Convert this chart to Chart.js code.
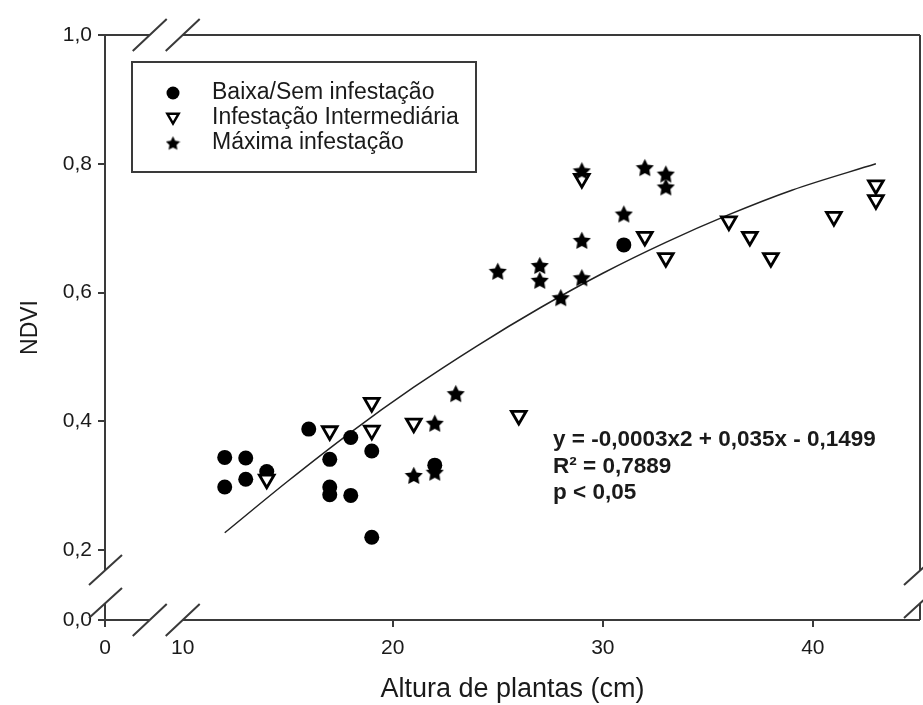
<!DOCTYPE html>
<html>
<head>
<meta charset="utf-8">
<script src="https://cdn.jsdelivr.net/npm/chart.js@4/dist/chart.umd.min.js"></script>
<style>
html, body { margin: 0; padding: 0; background: #fff; overflow: hidden; }
canvas { display: block; }
</style>
</head>
<body>
<canvas id="ndviChart" width="923" height="705"></canvas>
<script>
// values
const circleX = [12, 12, 13, 13, 14, 16, 17, 17, 17, 18, 18, 19, 19, 22, 31];
const circleY = [0.344, 0.298, 0.343, 0.310, 0.322, 0.388, 0.341, 0.298, 0.286, 0.375, 0.285, 0.354, 0.220, 0.332, 0.674];

const triX = [14, 17, 19, 19, 21, 26, 29, 32, 33, 36, 37, 38, 41, 43, 43];
const triY = [0.310, 0.385, 0.386, 0.429, 0.397, 0.409, 0.777, 0.687, 0.654, 0.711, 0.687, 0.654, 0.718, 0.767, 0.744];

const starX = [21, 22, 22, 23, 25, 27, 27, 28, 29, 29, 29, 31, 32, 33, 33];
const starY = [0.316, 0.321, 0.397, 0.443, 0.633, 0.642, 0.619, 0.592, 0.623, 0.681, 0.789, 0.722, 0.794, 0.784, 0.764];

// fitted curve as drawn
const curveX = [12, 15, 18, 21, 24, 27, 30, 33, 36, 39, 43];
const curveY = [0.227, 0.307, 0.383, 0.453, 0.517, 0.576, 0.630, 0.678, 0.721, 0.759, 0.800];

const xTickValues = [10, 20, 30, 40];
const yTickValues = [0.2, 0.4, 0.6, 0.8, 1.0];
const legendLabels = ['Baixa/Sem infestação', 'Infestação Intermediária', 'Máxima infestação'];
const fitText = ['y = -0,0003x2 + 0,035x - 0,1499', 'R² = 0,7889', 'p < 0,05'];

// broken axes: where the "0" sits on each scale and where the gap is
const X_ZERO = 6.3, X_MAX = 45.1, X_GAP = [8.43, 10];
const Y_ZERO = 0.0915, Y_MAX = 1.0, Y_GAP = [0.118, 0.169];

const FONT = "'Liberation Sans', Arial, sans-serif";
const INK = '#1a1a1a';

function toXY(xs, ys) {
    return xs.map((x, i) => ({ x: x, y: ys[i] }));
}

function makeStar(size) {
    const c = document.createElement('canvas');
    c.width = c.height = size;
    const g = c.getContext('2d');
    const r = size / 2, ri = r * 0.5;
    g.beginPath();
    for (let i = 0; i < 10; i++) {
        const a = -Math.PI / 2 + i * Math.PI / 5;
        const rr = i % 2 ? ri : r;
        g.lineTo(r + rr * Math.cos(a), r + 0.8 + rr * Math.sin(a));
    }
    g.closePath();
    g.fillStyle = '#000';
    g.fill();
    return c;
}

const starImg = makeStar(19);
const starSmall = makeStar(15);

function drawTri(ctx, x, y, r, lw) {
    ctx.beginPath();
    ctx.moveTo(x - r * 0.866, y - r * 0.5);
    ctx.lineTo(x + r * 0.866, y - r * 0.5);
    ctx.lineTo(x, y + r);
    ctx.closePath();
    ctx.fillStyle = '#fff';
    ctx.fill();
    ctx.lineWidth = lw;
    ctx.strokeStyle = '#000';
    ctx.stroke();
}

const brokenFrame = {
    id: 'brokenFrame',
    afterDraw(chart) {
        const ctx = chart.ctx;
        const { left, right, top, bottom } = chart.chartArea;
        const xs = chart.scales.x, ys = chart.scales.y;
        const gx0 = xs.getPixelForValue(X_GAP[0]), gx1 = xs.getPixelForValue(X_GAP[1]);
        const gy0 = ys.getPixelForValue(Y_GAP[0]), gy1 = ys.getPixelForValue(Y_GAP[1]);
        ctx.save();
        ctx.strokeStyle = '#3a3a3a';
        ctx.lineWidth = 2;
        ctx.beginPath();
        // bottom and top
        [bottom, top].forEach(y => {
            ctx.moveTo(left, y); ctx.lineTo(gx0, y);
            ctx.moveTo(gx1, y); ctx.lineTo(right, y);
        });
        // left and right
        [left, right].forEach(x => {
            ctx.moveTo(x, top); ctx.lineTo(x, gy1);
            ctx.moveTo(x, gy0); ctx.lineTo(x, bottom);
        });
        ctx.stroke();

        // break slashes
        ctx.beginPath();
        [bottom, top].forEach(y => {
            [gx0, gx1].forEach(x => {
                ctx.moveTo(x - 17, y + 16); ctx.lineTo(x + 17, y - 16);
            });
        });
        [left, right].forEach(x => {
            [gy0, gy1].forEach(y => {
                ctx.moveTo(x - 16, y + 15); ctx.lineTo(x + 17, y - 15);
            });
        });
        ctx.stroke();
        ctx.restore();
    }
};

const legendBox = {
    id: 'legendBox',
    afterDraw(chart) {
        const ctx = chart.ctx;
        ctx.save();
        ctx.fillStyle = '#fff';
        ctx.fillRect(132, 62, 344, 110);
        ctx.strokeStyle = '#3a3a3a';
        ctx.lineWidth = 2;
        ctx.strokeRect(132, 62, 344, 110);

        const symX = 173, textX = 212;
        const rows = [93, 118, 143];
        // circle
        ctx.beginPath();
        ctx.arc(symX, rows[0], 6.5, 0, Math.PI * 2);
        ctx.fillStyle = '#000';
        ctx.fill();
        // triangle
        drawTri(ctx, symX, rows[1] - 1, 6.5, 2.5);
        // star
        ctx.drawImage(starSmall, symX - 7.5, rows[2] - 7.5);

        ctx.fillStyle = INK;
        ctx.font = '23px ' + FONT;
        ctx.textBaseline = 'middle';
        ctx.textAlign = 'left';
        legendLabels.forEach((t, i) => ctx.fillText(t, textX, rows[i]));

        // regression text
        ctx.font = 'bold 22.5px ' + FONT;
        const fitRows = [440, 467, 493];
        fitText.forEach((t, i) => ctx.fillText(t, 553, fitRows[i]));
        ctx.restore();
    }
};

const ctx = document.getElementById('ndviChart').getContext('2d');
const chart = new Chart(ctx, {
    type: 'scatter',
    data: {
        datasets: [
            {
                label: legendLabels[2],
                data: toXY(starX, starY),
                pointStyle: starImg,
                order: 1
            },
            {
                label: legendLabels[1],
                data: toXY(triX, triY),
                pointStyle: 'triangle',
                rotation: 180,
                pointRadius: 8.5,
                pointBorderWidth: 2.8,
                pointBackgroundColor: '#fff',
                pointBorderColor: '#000',
                order: 2
            },
            {
                label: legendLabels[0],
                data: toXY(circleX, circleY),
                pointStyle: 'circle',
                pointRadius: 7.5,
                pointBorderWidth: 0,
                pointBackgroundColor: '#000',
                order: 3
            },
            {
                type: 'line',
                label: 'ajuste',
                data: toXY(curveX, curveY),
                borderColor: '#222',
                borderWidth: 1.5,
                pointRadius: 0,
                cubicInterpolationMode: 'monotone',
                fill: false,
                order: 4
            }
        ]
    },
    options: {
        responsive: false,
        animation: false,
        layout: { autoPadding: false, padding: { top: 35, right: 3, bottom: 0, left: 0 } },
        plugins: {
            legend: { display: false },
            tooltip: { enabled: false }
        },
        scales: {
            x: {
                type: 'linear',
                min: X_ZERO,
                max: X_MAX,
                afterBuildTicks: s => { s.ticks = [X_ZERO].concat(xTickValues).map(v => ({ value: v })); },
                afterFit: s => { s.height = 85; s.paddingLeft = 0; s.paddingRight = 0; },
                ticks: {
                    autoSkip: false,
                    maxRotation: 0,
                    padding: 9,
                    color: INK,
                    font: { family: FONT, size: 21 },
                    callback: v => (v === X_ZERO ? '0' : String(v))
                },
                grid: {
                    drawOnChartArea: false,
                    drawTicks: true,
                    tickLength: 7,
                    lineWidth: 2,
                    color: c => (c.tick && c.tick.value === 10 ? 'rgba(0,0,0,0)' : '#3a3a3a')
                },
                border: { display: false },
                title: {
                    display: true,
                    text: 'Altura de plantas (cm)',
                    color: INK,
                    font: { family: FONT, size: 27 },
                    padding: { top: 0, bottom: -1 }
                }
            },
            y: {
                type: 'linear',
                min: Y_ZERO,
                max: Y_MAX,
                afterBuildTicks: s => { s.ticks = [Y_ZERO].concat(yTickValues).map(v => ({ value: v })); },
                afterFit: s => { s.width = 105; s.paddingTop = 0; s.paddingBottom = 0; },
                ticks: {
                    autoSkip: false,
                    padding: 6,
                    color: INK,
                    font: { family: FONT, size: 21 },
                    callback: v => (v === Y_ZERO ? '0,0' : v.toFixed(1).replace('.', ','))
                },
                grid: {
                    drawOnChartArea: false,
                    drawTicks: true,
                    tickLength: 7,
                    lineWidth: 2,
                    color: '#3a3a3a'
                },
                border: { display: false },
                title: {
                    display: true,
                    text: 'NDVI',
                    color: INK,
                    font: { family: FONT, size: 23 },
                    padding: { top: 17, bottom: 0 }
                }
            }
        }
    },
    plugins: [brokenFrame, legendBox]
});
</script>
</body>
</html>
